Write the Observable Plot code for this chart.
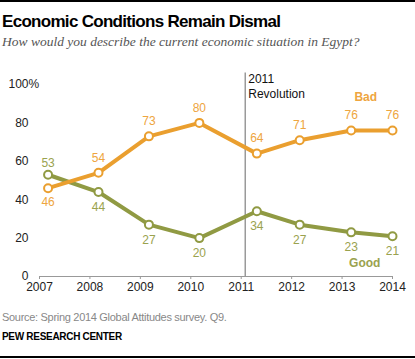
<!DOCTYPE html>
<html>
<head>
<meta charset="utf-8">
<script src="https://cdn.jsdelivr.net/npm/d3@7"></script>
<script src="https://cdn.jsdelivr.net/npm/@observablehq/plot@0.6"></script>
<style>
  html, body { margin: 0; padding: 0; background: #fff; }
  #page { position: relative; width: 415px; height: 359px; overflow: hidden; font-family: "Liberation Sans", Arial, sans-serif; }
  .rule { position: absolute; left: 0; width: 415px; height: 2px; background: #000; }
  #title { position: absolute; left: 2px; top: 12px; font-weight: bold; font-size: 17px; color: #000; white-space: nowrap; letter-spacing: -0.7px; }
  #subtitle { position: absolute; left: 2px; top: 34px; font-family: "Liberation Serif", serif; font-style: italic; font-size: 13.5px; color: #555; white-space: nowrap; }
  #chart { position: absolute; left: 0; top: 56px; }
  #source { position: absolute; left: 2px; top: 311px; font-size: 11px; color: #888; white-space: nowrap; letter-spacing: -0.3px; }
  #credit { position: absolute; left: 2px; top: 331px; font-size: 10px; font-weight: bold; color: #000; white-space: nowrap; letter-spacing: -0.3px; }
</style>
</head>
<body>
<div id="page">
  <div class="rule" style="top:0"></div>
  <div id="title">Economic Conditions Remain Dismal</div>
  <div id="subtitle">How would you describe the current economic situation in Egypt?</div>
  <div id="chart"></div>
  <div id="source">Source: Spring 2014 Global Attitudes survey. Q9.</div>
  <div id="credit">PEW RESEARCH CENTER</div>
  <div class="rule" style="top:356px"></div>
</div>
<script>
// ---- data ----
const years = [2007, 2008, 2009, 2010, 2011, 2012, 2013, 2014];
const surveyTimes = [2007.17, 2008.17, 2009.17, 2010.17, 2011.31, 2012.16, 2013.18, 2014.0];
const badValues = [46, 54, 73, 80, 64, 71, 76, 76];
const goodValues = [53, 44, 27, 20, 34, 27, 23, 21];
const yTicks = [0, 20, 40, 60, 80, 100];
const revolutionTime = 2011.08;
const revolutionLabel = ["2011", "Revolution"];
const seriesNames = ["Bad", "Good"];

// ---- build tables ----
const badColor = "#EA9F2F", badText = "#EEA540";
const goodColor = "#909A43", goodText = "#9AA24E";
const bad = surveyTimes.map((t, i) => ({t, v: badValues[i], above: badValues[i] >= goodValues[i]}));
const good = surveyTimes.map((t, i) => ({t, v: goodValues[i], above: goodValues[i] > badValues[i]}));

const font = "Liberation Sans, Arial, sans-serif";
const chart = Plot.plot({
  width: 415,
  height: 244,
  marginLeft: 39,
  marginRight: 23,
  marginTop: 28,
  marginBottom: 24,
  style: {fontFamily: font, fontSize: "12px", background: "transparent"},
  x: {type: "linear", domain: [2007, 2014], label: null},
  y: {domain: [0, 100], label: null},
  marks: [
    Plot.ruleX([revolutionTime], {y1: 0, y2: 106, stroke: "#9a9a9a", strokeWidth: 1.5}),
    Plot.text([revolutionLabel[0]], {x: revolutionTime, y: 103, text: d => d, textAnchor: "start", dx: 3, fill: "#111", fontSize: 12}),
    Plot.text([revolutionLabel[1]], {x: revolutionTime, y: 103, text: d => d, textAnchor: "start", dx: 3, dy: 15, fill: "#111", fontSize: 12}),
    Plot.ruleY([0], {stroke: "#999", strokeWidth: 1}),
    Plot.axisX({ticks: years, tickFormat: d => String(d), tickSize: 3, tickPadding: 3, stroke: "#999", color: "#222", fontSize: 12, label: null}),
    Plot.axisY({ticks: yTicks, tickFormat: d => String(d), tickSize: 0, tickPadding: 11, color: "#222", fontSize: 12, label: null}),
    Plot.text([100], {y: d => d, text: () => "%", frameAnchor: "left", dx: -11, textAnchor: "start", fill: "#222", fontSize: 12}),
    Plot.line(good, {x: "t", y: "v", stroke: goodColor, strokeWidth: 4}),
    Plot.line(bad, {x: "t", y: "v", stroke: badColor, strokeWidth: 4}),
    Plot.dot(good, {x: "t", y: "v", r: 4, fill: "white", stroke: goodColor, strokeWidth: 2}),
    Plot.dot(bad, {x: "t", y: "v", r: 4, fill: "white", stroke: badColor, strokeWidth: 2}),
    Plot.text(bad.filter(d => d.above), {x: "t", y: "v", text: d => String(d.v), dy: -15, fill: badText, fontSize: 12}),
    Plot.text(bad.filter(d => !d.above), {x: "t", y: "v", text: d => String(d.v), dy: 14, fill: badText, fontSize: 12}),
    Plot.text(good.filter(d => d.above), {x: "t", y: "v", text: d => String(d.v), dy: -12, fill: goodText, fontSize: 12}),
    Plot.text(good.filter(d => !d.above), {x: "t", y: "v", text: d => String(d.v), dy: 15, fill: goodText, fontSize: 12}),
    Plot.text([seriesNames[0]], {x: 2013.47, y: 93.5, text: d => d, fill: badText, fontWeight: "bold", fontSize: 12}),
    Plot.text([seriesNames[1]], {x: 2013.45, y: 7, text: d => d, fill: goodText, fontWeight: "bold", fontSize: 12})
  ]
});
document.getElementById("chart").appendChild(chart);
</script>
</body>
</html>
